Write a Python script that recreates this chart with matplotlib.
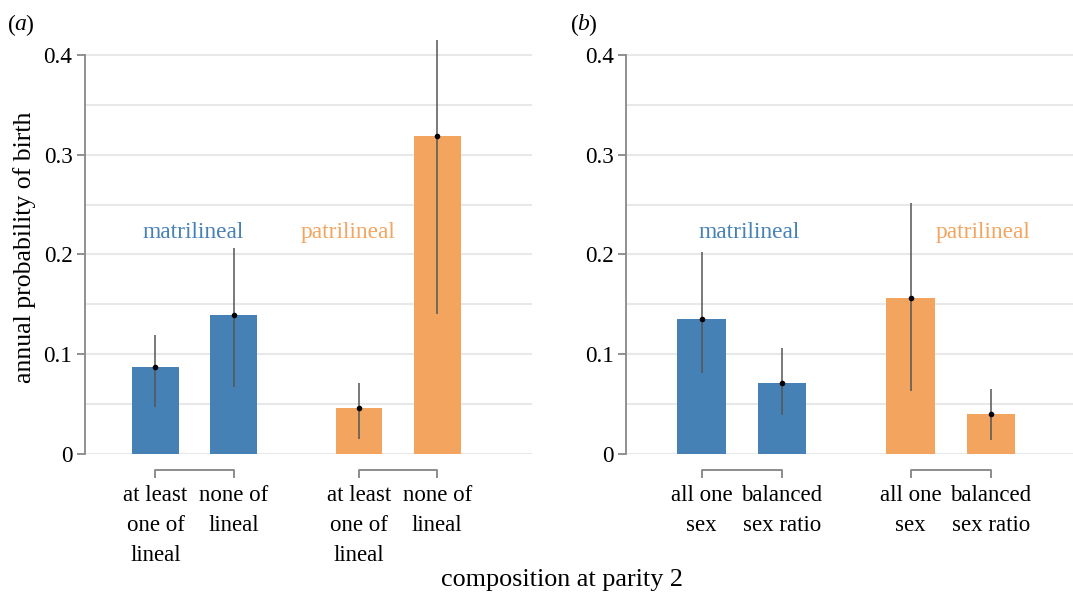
import numpy as np
import matplotlib.pyplot as plt

plt.rcParams['font.family'] = ['Liberation Serif', 'DejaVu Serif']

# panel (a): lineal composition
labels_a = ["at least\none of\nlineal", "none of\nlineal", "at least\none of\nlineal", "none of\nlineal"]
means_a = [0.087, 0.139, 0.046, 0.319]
lo_a = [0.047, 0.067, 0.015, 0.140]
hi_a = [0.119, 0.206, 0.071, 0.415]

# panel (b): sex composition
labels_b = ["all one\nsex", "balanced\nsex ratio", "all one\nsex", "balanced\nsex ratio"]
means_b = [0.135, 0.071, 0.156, 0.040]
lo_b = [0.081, 0.039, 0.063, 0.014]
hi_b = [0.202, 0.106, 0.252, 0.065]

groups = ["matrilineal", "matrilineal", "patrilineal", "patrilineal"]
yticks = [0, 0.1, 0.2, 0.3, 0.4]
ytick_labels = ["0", "0.1", "0.2", "0.3", "0.4"]

blue = '#4681b6'
orange = '#f3a45e'
colors = {"matrilineal": blue, "patrilineal": orange}
xpos = np.array([0, 1, 2.6, 3.6])

W, H = 1073, 594
fig = plt.figure(figsize=(W / 100, H / 100), dpi=100)
ax_a = fig.add_axes([85 / W, (H - 454) / H, 447 / W, 419 / H])
ax_b = fig.add_axes([626 / W, (H - 454) / H, 447 / W, 419 / H])


def draw(ax, means, lo, hi, labels, xlim, label_x):
    cols = [colors[g] for g in groups]
    ax.bar(xpos, means, width=0.6, color=cols, zorder=2)
    ax.vlines(xpos, lo, hi, color='#555555', lw=1.1, zorder=3, clip_on=False)
    ax.plot(xpos, means, 'o', color='black', ms=3, zorder=4)
    ax.set_xlim(*xlim)
    ax.set_ylim(0, 0.42)
    ax.set_yticks(yticks)
    ax.set_yticklabels(ytick_labels, fontsize=16.7)
    ax.set_xticks([])
    for y in np.arange(0, 0.41, 0.05):
        ax.axhline(y, color='#e8e8e8', lw=1.5, zorder=1)
    for s in ['top', 'right', 'bottom']:
        ax.spines[s].set_visible(False)
    ax.spines['left'].set_bounds(0, 0.4)
    ax.spines['left'].set_color('#888888')
    ax.spines['left'].set_linewidth(1.3)
    ax.tick_params(axis='y', length=6, width=1.3, color='#888888', pad=3)
    # brackets under each pair
    for i in (0, 2):
        ax.plot([xpos[i], xpos[i], xpos[i + 1], xpos[i + 1]],
                [-0.023, -0.016, -0.016, -0.023], color='#8c8c8c', lw=1.4,
                clip_on=False)
    for x, lab in zip(xpos, labels):
        ax.text(x, -0.031, lab, ha='center', va='top', fontsize=16.5,
                linespacing=1.55)
    ax.text(label_x[0], 0.2225, "matrilineal", color=blue, ha='center',
            va='center', fontsize=16.8)
    ax.text(label_x[1], 0.2225, "patrilineal", color=orange, ha='center',
            va='center', fontsize=16.8)


draw(ax_a, means_a, lo_a, hi_a, labels_a, (-0.90, 4.81), (0.48, 2.46))
draw(ax_b, means_b, lo_b, hi_b, labels_b, (-0.94, 4.62), (0.59, 3.5))

# panel tags with italic letters
for x0, letter in ((8, "a"), (571, "b")):
    fig.text(x0 / W, 1 - 25 / H, "(", fontsize=17, va='center')
    fig.text((x0 + 6) / W, 1 - 25 / H, letter, fontsize=17, style='italic',
             va='center')
    fig.text((x0 + 17) / W, 1 - 25 / H, ")", fontsize=17, va='center')

fig.text(25 / W, 1 - 247 / H, "annual probability of birth", rotation=90,
         ha='center', va='center', fontsize=18.5)
fig.text(0.524, 1 - 580 / H, "composition at parity 2", ha='center',
         va='center', fontsize=18.8)

fig.savefig('out.png', dpi=100)
